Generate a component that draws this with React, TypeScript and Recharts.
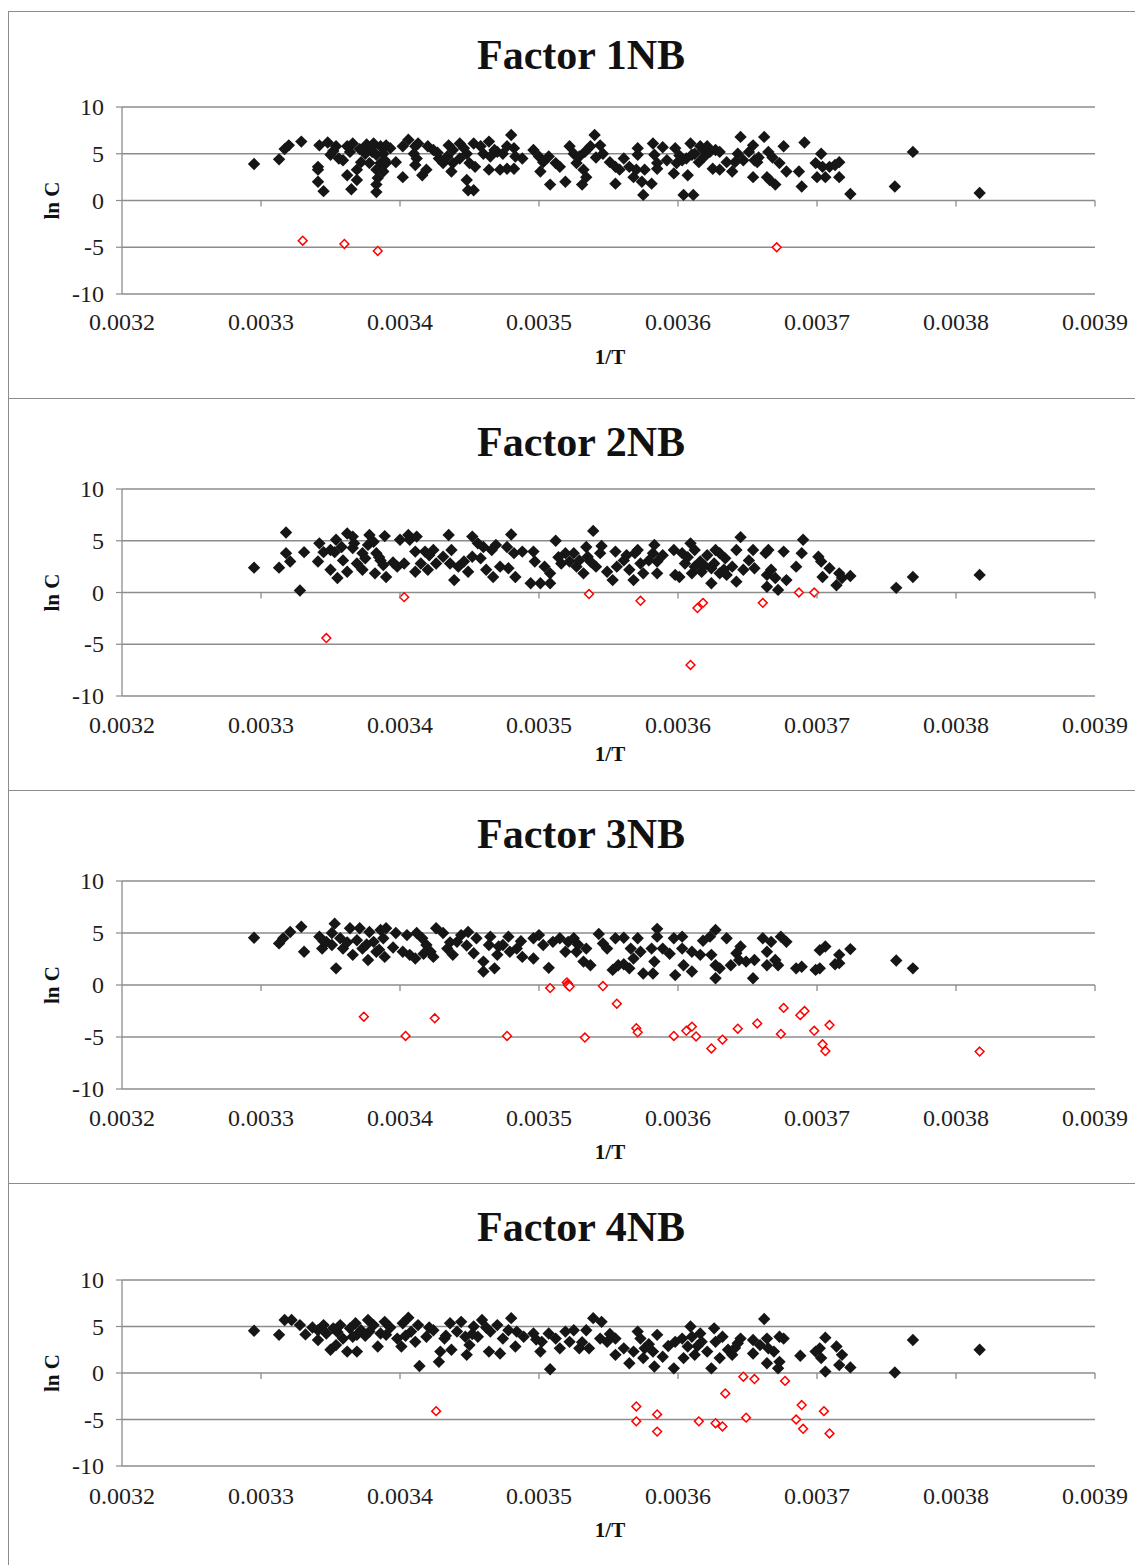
import React from "react";
import { ScatterChart, Scatter, XAxis, YAxis, CartesianGrid } from "recharts";

const xTicks = [0.0032, 0.0033, 0.0034, 0.0035, 0.0036, 0.0037, 0.0038, 0.0039];
const yTicks = [-10, -5, 0, 5, 10];
const titles = ["Factor 1NB", "Factor 2NB", "Factor 3NB", "Factor 4NB"];

const f1Black: [number, number][] = [
  [0.003295, 3.9], [0.003313, 4.4], [0.003317, 5.5], [0.00332, 5.9], [0.003329, 6.3], [0.003342, 5.9], [0.003348, 6.2],
  [0.003354, 5.8], [0.00335, 4.9], [0.003356, 4.5], [0.003359, 4.3], [0.003341, 3.6], [0.003341, 3.3], [0.003341, 2.0],
  [0.003345, 1.0], [0.003362, 5.8], [0.003366, 6.1], [0.003364, 5.2], [0.003362, 2.7], [0.003369, 3.3], [0.003369, 2.2],
  [0.003365, 1.2], [0.003376, 6.0], [0.003381, 6.1], [0.003386, 5.8], [0.00339, 5.9], [0.003375, 5.0], [0.00338, 5.2],
  [0.003383, 4.9], [0.003388, 5.0], [0.003372, 4.1], [0.003378, 4.0], [0.003386, 4.0], [0.003389, 4.3], [0.003383, 3.3],
  [0.003388, 3.1], [0.003384, 2.4], [0.003383, 1.7], [0.003383, 0.9], [0.00339, 4.0], [0.003397, 4.1], [0.003402, 2.5],
  [0.003402, 5.8], [0.003406, 6.5], [0.003411, 5.8], [0.00341, 5.0], [0.003413, 6.1], [0.003412, 4.5], [0.003411, 3.8],
  [0.003416, 2.7], [0.003419, 3.3], [0.00342, 5.8], [0.003424, 5.4], [0.003428, 4.5], [0.003431, 4.0], [0.003435, 5.9],
  [0.003438, 5.4], [0.003443, 6.1], [0.003434, 4.7], [0.003438, 4.0], [0.003437, 3.1], [0.003443, 4.5], [0.003448, 5.0],
  [0.00345, 4.0], [0.003454, 3.6], [0.003448, 2.2], [0.003449, 1.1], [0.003453, 1.1], [0.003453, 6.1], [0.003458, 5.8],
  [0.003464, 6.3], [0.00346, 5.0], [0.003465, 4.7], [0.003464, 3.3], [0.00347, 5.2], [0.003474, 5.0], [0.003477, 5.8],
  [0.00348, 7.0], [0.003482, 5.6], [0.003483, 4.7], [0.003472, 3.3], [0.003477, 3.4], [0.003482, 3.4], [0.003488, 4.5],
  [0.003496, 5.4], [0.0035, 4.7], [0.003503, 4.1], [0.003507, 4.7], [0.003501, 3.1], [0.003508, 1.7], [0.003512, 4.0],
  [0.003515, 3.6], [0.003519, 2.0], [0.003522, 5.8], [0.003525, 5.0], [0.003527, 4.0], [0.003529, 4.7], [0.003532, 3.3],
  [0.003534, 2.5], [0.003531, 1.7], [0.003537, 5.8], [0.00354, 7.0], [0.003544, 5.9], [0.003546, 5.0], [0.003551, 4.1],
  [0.003555, 3.6], [0.003555, 1.8], [0.003561, 4.5], [0.003558, 3.3], [0.003565, 3.6], [0.003568, 2.5], [0.00357, 3.3],
  [0.003571, 5.6], [0.003571, 4.9], [0.003574, 2.0], [0.003575, 0.6], [0.003576, 3.3], [0.003581, 1.8], [0.003582, 6.1],
  [0.003583, 4.9], [0.003585, 4.0], [0.003585, 3.4], [0.003589, 5.7], [0.003597, 2.9], [0.003598, 5.6], [0.003599, 4.0],
  [0.003604, 0.6], [0.003611, 0.6], [0.003607, 2.7], [0.003603, 4.3], [0.003606, 4.5], [0.003609, 6.1], [0.00361, 4.9],
  [0.003612, 5.0], [0.003616, 5.8], [0.003615, 4.1], [0.003618, 5.4], [0.003621, 5.8], [0.003623, 5.2], [0.003627, 5.4],
  [0.003625, 3.4], [0.00363, 3.3], [0.00363, 5.2], [0.003635, 4.1], [0.003639, 3.1], [0.003641, 4.1], [0.003643, 5.0],
  [0.003645, 6.8], [0.003647, 4.3], [0.003651, 5.2], [0.003654, 5.9], [0.003655, 4.3], [0.003654, 2.5], [0.003657, 4.1],
  [0.003662, 6.8], [0.003665, 5.2], [0.003664, 2.5], [0.003666, 2.2], [0.00367, 1.7], [0.003673, 4.0], [0.003676, 5.8],
  [0.003678, 3.1], [0.003687, 3.1], [0.003689, 1.5], [0.003691, 6.2], [0.003699, 4.0], [0.0037, 2.5], [0.003703, 5.0],
  [0.003704, 3.6], [0.003706, 2.5], [0.003709, 3.6], [0.003713, 3.8], [0.003716, 4.1], [0.003716, 2.5], [0.003724, 0.7],
  [0.003756, 1.5], [0.003769, 5.2], [0.003817, 0.8],
  [0.003352, 5.3], [0.003371, 5.5], [0.003393, 5.6], [0.003379, 5.6], [0.003427, 5.1], [0.003446, 5.6], [0.003468, 5.4],
  [0.003533, 5.2], [0.003541, 4.6], [0.003592, 4.3], [0.003601, 4.8], [0.003619, 4.7], [0.003658, 4.6], [0.003668, 4.6],
];
const f1Red: [number, number][] = [
  [0.00333, -4.3], [0.00336, -4.65], [0.003384, -5.4], [0.003671, -5.0],
];

const f2Black: [number, number][] = [
  [0.003295, 2.4], [0.003313, 2.4], [0.003318, 5.8], [0.003318, 3.8], [0.003321, 3.0], [0.003328, 0.2], [0.003331, 3.9],
  [0.003342, 4.75], [0.003341, 3.0], [0.003345, 3.9], [0.00335, 4.1], [0.003354, 5.1], [0.003353, 3.9], [0.00335, 2.2],
  [0.003355, 1.4], [0.003359, 3.1], [0.003362, 5.7], [0.003362, 2.0], [0.003366, 5.4], [0.003366, 4.3], [0.003367, 4.75],
  [0.003369, 2.8], [0.003373, 3.8], [0.003373, 2.2], [0.003378, 5.55], [0.003377, 4.6], [0.003381, 4.9], [0.003383, 3.8],
  [0.003382, 1.85], [0.003386, 3.1], [0.003389, 5.45], [0.003388, 2.65], [0.00339, 1.5], [0.003398, 2.5], [0.0034, 5.1],
  [0.003403, 2.8], [0.003406, 5.55], [0.003407, 5.1], [0.003412, 5.4], [0.003411, 3.95], [0.003411, 2.0], [0.003415, 2.8],
  [0.003418, 3.95], [0.00342, 2.2], [0.003424, 4.1], [0.003426, 2.8], [0.003431, 3.45], [0.003435, 5.55], [0.003437, 4.1],
  [0.003436, 2.8], [0.003439, 1.2], [0.003442, 2.5], [0.003446, 3.0], [0.003449, 2.0], [0.003452, 3.45], [0.003452, 5.4],
  [0.003456, 4.75], [0.00346, 4.4], [0.003462, 2.2], [0.003466, 4.1], [0.003467, 1.5], [0.003469, 4.6], [0.003472, 2.5],
  [0.003477, 4.4], [0.003478, 2.35], [0.00348, 5.6], [0.003482, 3.8], [0.003483, 1.5], [0.003488, 3.95], [0.003496, 3.95],
  [0.003494, 0.9], [0.003497, 3.0], [0.003501, 0.9], [0.003504, 2.5], [0.003508, 0.9], [0.003508, 1.85], [0.003512, 5.0],
  [0.003516, 2.8], [0.003519, 3.8], [0.003522, 3.0], [0.003525, 3.8], [0.003527, 2.5], [0.003529, 3.1], [0.003532, 1.85],
  [0.003534, 4.4], [0.003535, 3.45], [0.003539, 5.95], [0.003541, 2.5], [0.003545, 4.5], [0.003544, 3.8], [0.003549, 2.0],
  [0.003553, 1.2], [0.003555, 3.95], [0.003556, 2.5], [0.003561, 3.1], [0.003563, 3.6], [0.003565, 2.2], [0.003568, 1.2],
  [0.003569, 3.8], [0.003571, 4.1], [0.003573, 2.8], [0.003575, 1.85], [0.003582, 3.8], [0.003583, 4.6], [0.003585, 3.0],
  [0.003585, 1.85], [0.003589, 3.6], [0.003597, 4.1], [0.003598, 1.7], [0.003601, 1.5], [0.003603, 3.8], [0.003605, 2.8],
  [0.003609, 4.75], [0.00361, 1.85], [0.003612, 4.1], [0.003612, 2.5], [0.003616, 3.0], [0.003617, 2.0], [0.003621, 3.6],
  [0.003624, 2.35], [0.003624, 0.9], [0.003627, 4.1], [0.003626, 2.8], [0.00363, 3.8], [0.00363, 1.85], [0.003634, 3.3],
  [0.003635, 1.7], [0.003639, 2.5], [0.003642, 1.05], [0.003642, 4.1], [0.003645, 5.35], [0.003647, 2.2], [0.003651, 3.1],
  [0.003654, 4.1], [0.003655, 2.35], [0.003663, 3.8], [0.003665, 4.1], [0.003664, 1.7], [0.003664, 0.55], [0.003667, 2.2],
  [0.00367, 1.4], [0.003672, 0.25], [0.003676, 3.95], [0.003678, 1.2], [0.003685, 2.5], [0.003689, 3.8], [0.00369, 5.1],
  [0.003701, 3.45], [0.003703, 3.0], [0.003704, 1.5], [0.003709, 2.35], [0.003716, 1.85], [0.003718, 1.4], [0.003714, 0.7],
  [0.003724, 1.6], [0.003757, 0.45], [0.003769, 1.5], [0.003817, 1.7],
  [0.003358, 4.4], [0.003375, 3.3], [0.003385, 3.4], [0.003395, 2.9], [0.003421, 3.6], [0.003458, 3.3], [0.003514, 3.4],
  [0.003537, 3.0], [0.003579, 3.1], [0.003607, 3.4], [0.003619, 2.6], [0.003633, 2.2],
];
const f2Red: [number, number][] = [
  [0.003347, -4.4], [0.003403, -0.45], [0.003536, -0.15], [0.003573, -0.8], [0.003614, -1.5], [0.003618, -1.0],
  [0.003609, -7.0], [0.003661, -1.0], [0.003687, 0.0], [0.003698, 0.0],
];

const f3Black: [number, number][] = [
  [0.003295, 4.55], [0.003313, 4.0], [0.003316, 4.5], [0.003321, 5.1], [0.003329, 5.6], [0.003331, 3.2], [0.003354, 1.6],
  [0.003342, 4.65], [0.003344, 3.5], [0.003347, 4.15], [0.003351, 5.0], [0.003353, 5.9], [0.003351, 3.85], [0.003357, 4.5],
  [0.003359, 3.5], [0.003364, 5.45], [0.003366, 2.9], [0.003369, 4.3], [0.003371, 5.45], [0.003373, 3.5], [0.003377, 2.4],
  [0.003378, 5.1], [0.003381, 4.15], [0.003383, 3.2], [0.003386, 5.3], [0.003388, 4.5], [0.003389, 2.7], [0.00339, 5.45],
  [0.003397, 5.0], [0.003402, 3.2], [0.003405, 4.8], [0.003407, 2.9], [0.003411, 2.55], [0.003412, 5.0], [0.003416, 4.5],
  [0.003419, 3.85], [0.003422, 3.2], [0.003424, 2.7], [0.003426, 5.45], [0.003431, 5.0], [0.003434, 3.5], [0.003438, 2.9],
  [0.003441, 4.15], [0.003444, 4.8], [0.003449, 5.1], [0.003453, 3.05], [0.003455, 4.5], [0.00346, 2.25], [0.00346, 1.3],
  [0.003464, 3.85], [0.003465, 4.65], [0.003468, 1.6], [0.00347, 2.9], [0.003474, 3.85], [0.003478, 4.65], [0.003479, 3.2],
  [0.003484, 3.5], [0.003488, 2.7], [0.003496, 2.55], [0.003496, 4.5], [0.0035, 4.8], [0.003503, 3.85], [0.003507, 1.65],
  [0.00351, 4.15], [0.003515, 4.5], [0.003519, 3.2], [0.003521, 4.15], [0.003525, 4.5], [0.003527, 3.2], [0.003532, 2.25],
  [0.003534, 3.5], [0.003537, 1.9], [0.003543, 4.9], [0.003546, 4.0], [0.003549, 3.5], [0.003553, 1.45], [0.003555, 4.5],
  [0.003557, 1.9], [0.003561, 4.55], [0.003561, 2.0], [0.003565, 1.6], [0.003568, 2.55], [0.003571, 4.5], [0.003573, 3.2],
  [0.003575, 1.1], [0.003582, 1.1], [0.003581, 3.5], [0.003585, 5.4], [0.003585, 4.65], [0.003583, 2.25], [0.003589, 3.5],
  [0.003597, 4.5], [0.003598, 0.95], [0.003603, 4.65], [0.003603, 3.5], [0.003604, 1.9], [0.00361, 1.3], [0.00361, 3.2],
  [0.003616, 2.9], [0.003618, 4.25], [0.003623, 4.65], [0.003627, 5.3], [0.003624, 2.9], [0.003627, 1.9], [0.003627, 0.65],
  [0.00363, 1.6], [0.003635, 4.5], [0.003638, 1.9], [0.003642, 3.05], [0.003645, 3.7], [0.003649, 2.25], [0.003654, 0.65],
  [0.003655, 2.4], [0.003661, 4.5], [0.003664, 3.2], [0.003664, 1.9], [0.003667, 4.15], [0.00367, 2.4], [0.003672, 1.9],
  [0.003674, 4.65], [0.003678, 4.15], [0.003685, 1.6], [0.003689, 1.75], [0.003699, 1.45], [0.003702, 1.6], [0.003702, 3.35],
  [0.003706, 3.7], [0.003713, 2.0], [0.003716, 2.9], [0.003716, 2.1], [0.003724, 3.45], [0.003757, 2.35], [0.003769, 1.6],
  [0.003345, 4.2], [0.003362, 4.1], [0.003376, 3.9], [0.003385, 3.4], [0.003395, 3.6], [0.003417, 3.0], [0.003436, 4.1],
  [0.003448, 3.8], [0.003471, 3.7], [0.003487, 4.2], [0.003528, 3.9], [0.003566, 3.5], [0.003594, 3.0], [0.003644, 2.4],
];
const f3Red: [number, number][] = [
  [0.003374, -3.05], [0.003404, -4.9], [0.003425, -3.2], [0.003477, -4.9], [0.003508, -0.3], [0.00352, 0.25],
  [0.003521, 0.1], [0.003521, -0.05], [0.003522, -0.15], [0.003546, -0.1], [0.003556, -1.8], [0.003533, -5.05],
  [0.00357, -4.15], [0.003571, -4.55], [0.003597, -4.9], [0.003606, -4.4], [0.00361, -4.0], [0.003613, -4.95],
  [0.003624, -6.1], [0.003632, -5.25], [0.003643, -4.2], [0.003657, -3.7], [0.003674, -4.7], [0.003676, -2.2],
  [0.003688, -2.9], [0.003691, -2.5], [0.003698, -4.4], [0.003704, -5.7], [0.003706, -6.35], [0.003709, -3.85],
  [0.003817, -6.4],
];

const f4Black: [number, number][] = [
  [0.003295, 4.55], [0.003313, 4.1], [0.003317, 5.7], [0.003322, 5.7], [0.003328, 5.15], [0.003332, 4.15], [0.003341, 4.6],
  [0.003341, 3.55], [0.003345, 5.15], [0.003347, 4.25], [0.00335, 2.5], [0.003352, 4.8], [0.003354, 3.0], [0.003357, 5.15],
  [0.003359, 3.7], [0.003362, 2.3], [0.003364, 4.8], [0.003368, 5.35], [0.003369, 2.3], [0.003369, 4.1], [0.003372, 4.6],
  [0.003377, 5.7], [0.003378, 4.45], [0.003381, 5.15], [0.003384, 2.85], [0.003386, 4.25], [0.003389, 5.5], [0.00339, 4.1],
  [0.003398, 3.7], [0.003401, 2.85], [0.003402, 5.35], [0.003406, 5.95], [0.003408, 4.45], [0.003411, 3.35], [0.003413, 5.15],
  [0.003414, 0.75], [0.003419, 3.9], [0.003424, 4.6], [0.003428, 1.2], [0.003429, 2.3], [0.003432, 3.7], [0.003436, 5.35],
  [0.003437, 2.5], [0.003441, 4.45], [0.003444, 5.5], [0.003447, 3.9], [0.003448, 1.95], [0.00345, 3.0], [0.003453, 5.0],
  [0.003456, 3.9], [0.003459, 5.7], [0.003464, 2.3], [0.003465, 4.45], [0.00347, 5.15], [0.003472, 2.1], [0.003474, 3.7],
  [0.00348, 5.9], [0.003483, 2.85], [0.003484, 4.45], [0.003489, 3.9], [0.003496, 4.25], [0.003501, 2.3], [0.003502, 3.35],
  [0.003508, 0.4], [0.003507, 4.25], [0.003515, 2.65], [0.003519, 4.45], [0.003522, 3.35], [0.003525, 4.6], [0.003529, 2.65],
  [0.003534, 4.6], [0.003536, 2.65], [0.003539, 5.9], [0.003545, 5.5], [0.003544, 3.7], [0.003549, 3.35], [0.003555, 1.95],
  [0.003555, 3.7], [0.003561, 2.65], [0.003565, 1.05], [0.003568, 2.3], [0.003571, 4.45], [0.003573, 3.7], [0.003576, 2.65],
  [0.003575, 1.6], [0.003582, 2.3], [0.003583, 0.7], [0.003585, 4.1], [0.003589, 1.75], [0.003597, 0.5], [0.003598, 3.35],
  [0.003603, 3.7], [0.003604, 1.6], [0.003607, 2.85], [0.003609, 5.0], [0.00361, 3.9], [0.003612, 1.95], [0.003616, 4.25],
  [0.003617, 3.35], [0.003621, 2.3], [0.003624, 0.5], [0.003626, 4.8], [0.003627, 3.35], [0.00363, 1.6], [0.003632, 3.9],
  [0.003636, 2.5], [0.003639, 1.95], [0.003643, 3.2], [0.003645, 3.7], [0.003654, 3.55], [0.003654, 2.1], [0.003662, 5.8],
  [0.003664, 3.7], [0.003665, 2.65], [0.003664, 1.05], [0.003669, 2.3], [0.003672, 0.5], [0.003673, 3.9], [0.003673, 1.2],
  [0.003676, 3.7], [0.003688, 1.85], [0.003699, 2.3], [0.003702, 2.65], [0.003703, 1.6], [0.003706, 3.8], [0.003706, 0.15],
  [0.003714, 2.85], [0.003718, 1.95], [0.003716, 0.85], [0.003724, 0.6], [0.003756, 0.05], [0.003769, 3.55], [0.003817, 2.5],
  [0.003337, 4.9], [0.003355, 4.4], [0.003366, 3.9], [0.003375, 4.0], [0.003393, 4.9], [0.003404, 4.0], [0.003421, 4.9],
  [0.003433, 4.0], [0.003452, 4.2], [0.003462, 4.9], [0.003478, 4.6], [0.003498, 3.6], [0.003512, 3.7], [0.003531, 3.3],
  [0.003551, 4.2], [0.003579, 3.1], [0.003593, 2.9], [0.003614, 2.9], [0.003641, 2.7], [0.003659, 3.0],
];
const f4Red: [number, number][] = [
  [0.003426, -4.1], [0.00357, -3.6], [0.00357, -5.2], [0.003585, -4.45], [0.003585, -6.3], [0.003615, -5.2],
  [0.003627, -5.4], [0.003632, -5.75], [0.003634, -2.2], [0.003647, -0.4], [0.003655, -0.65], [0.003649, -4.8],
  [0.003677, -0.85], [0.003685, -5.0], [0.003689, -3.45], [0.00369, -6.0], [0.003705, -4.1], [0.003709, -6.5],
];

const blackSets = [f1Black, f2Black, f3Black, f4Black];
const redSets = [f1Red, f2Red, f3Red, f4Red];

// layout (per panel)
const layouts = [
  { height: 388, plotTop: 95, plotH: 187, tickBase: 36, xLabelBase: 352 },
  { height: 393, plotTop: 90, plotH: 207, tickBase: 36.5, xLabelBase: 362 },
  { height: 394, plotTop: 90, plotH: 208, tickBase: 36.5, xLabelBase: 368 },
  { height: 400, plotTop: 96, plotH: 186, tickBase: 37.5, xLabelBase: 353 },
];

const W = 1133;
const PLOT_LEFT = 113;
const PLOT_RIGHT = 1086;
const X_AXIS_H = 40;
const GRID = "#8c8c8c";
const FONT = "'Liberation Serif', 'Times New Roman', serif";

const toPts = (arr: [number, number][]) => arr.map(([x, y]) => ({ x, y }));

const BlackDiamond = (p: any) => {
  const { cx, cy } = p;
  if (cx == null || cy == null) return null;
  const r = 6.2;
  return <polygon points={`${cx},${cy - r} ${cx + r},${cy} ${cx},${cy + r} ${cx - r},${cy}`} fill="#161616" />;
};
const RedDiamond = (p: any) => {
  const { cx, cy } = p;
  if (cx == null || cy == null) return null;
  const r = 4.4;
  return (
    <polygon
      points={`${cx},${cy - r} ${cx + r},${cy} ${cx},${cy + r} ${cx - r},${cy}`}
      fill="#ffffff"
      stroke="#ff0000"
      strokeWidth={1.5}
    />
  );
};

const XTick = (props: any) => {
  const { x, payload, plotBottom, plotH, tickBase } = props;
  const zeroY = plotBottom - plotH / 2;
  const v = Number(payload.value);
  return (
    <g>
      {v > 0.00321 && <line x1={x} x2={x} y1={zeroY} y2={zeroY + 6} stroke={GRID} strokeWidth={1.3} />}
      <text x={x} y={plotBottom + tickBase} textAnchor="middle" fontFamily={FONT} fontSize={24} fill="#1e1e1e">
        {v.toFixed(4)}
      </text>
    </g>
  );
};

const YTick = (props: any) => {
  const { x, y, payload } = props;
  return (
    <text x={x} y={y + 8} textAnchor="end" fontFamily={FONT} fontSize={24} fill="#1e1e1e">
      {payload.value}
    </text>
  );
};

function Panel({ idx }: { idx: number }) {
  const L = layouts[idx];
  const contentH = L.height - 2;
  const plotBottom = L.plotTop + L.plotH;
  const marginBottom = contentH - plotBottom - X_AXIS_H;
  return (
    <div
      style={{
        position: "relative",
        boxSizing: "border-box",
        width: W + 2,
        height: L.height,
        border: "1px solid #8c8c8c",
        marginTop: idx === 0 ? 3 : -1,
        background: "#fff",
      }}
    >
      <ScatterChart
        width={W}
        height={contentH}
        margin={{ top: L.plotTop, right: W - PLOT_RIGHT, bottom: marginBottom, left: 0 }}
      >
        <CartesianGrid horizontal vertical={false} stroke={GRID} strokeWidth={1.3} />
        <XAxis
          type="number"
          dataKey="x"
          domain={[0.0032, 0.0039]}
          ticks={xTicks}
          axisLine={false}
          tickLine={false}
          height={X_AXIS_H}
          interval={0}
          allowDataOverflow
          tick={<XTick plotBottom={plotBottom} plotH={L.plotH} tickBase={L.tickBase} />}
        />
        <YAxis
          type="number"
          dataKey="y"
          domain={[-10, 10]}
          ticks={yTicks}
          width={PLOT_LEFT}
          axisLine={{ stroke: GRID, strokeWidth: 1.3 }}
          tickLine={{ stroke: GRID, strokeWidth: 1.2 }}
          tickSize={6}
          tickMargin={12}
          interval={0}
          allowDataOverflow
          tick={<YTick />}
        />
        <Scatter data={toPts(blackSets[idx])} shape={BlackDiamond} isAnimationActive={false} />
        <Scatter data={toPts(redSets[idx])} shape={RedDiamond} isAnimationActive={false} />
      </ScatterChart>
      <svg
        width={W}
        height={contentH}
        style={{ position: "absolute", left: 0, top: 0, pointerEvents: "none" }}
      >
        <text x={572} y={57} textAnchor="middle" fontFamily={FONT} fontWeight="bold" fontSize={42} fill="#111">
          {titles[idx]}
        </text>
        <text
          transform={`translate(50, ${L.plotTop + L.plotH / 2}) rotate(-90)`}
          textAnchor="middle"
          fontFamily={FONT}
          fontWeight="bold"
          fontSize={21}
          fill="#111"
        >
          ln C
        </text>
        <text x={601} y={L.xLabelBase} textAnchor="middle" fontFamily={FONT} fontWeight="bold" fontSize={21} fill="#111">
          1/T
        </text>
      </svg>
    </div>
  );
}

export default function App() {
  return (
    <div style={{ width: W + 2, background: "#fff" }}>
      {[0, 1, 2, 3].map((i) => (
        <Panel key={i} idx={i} />
      ))}
    </div>
  );
}
